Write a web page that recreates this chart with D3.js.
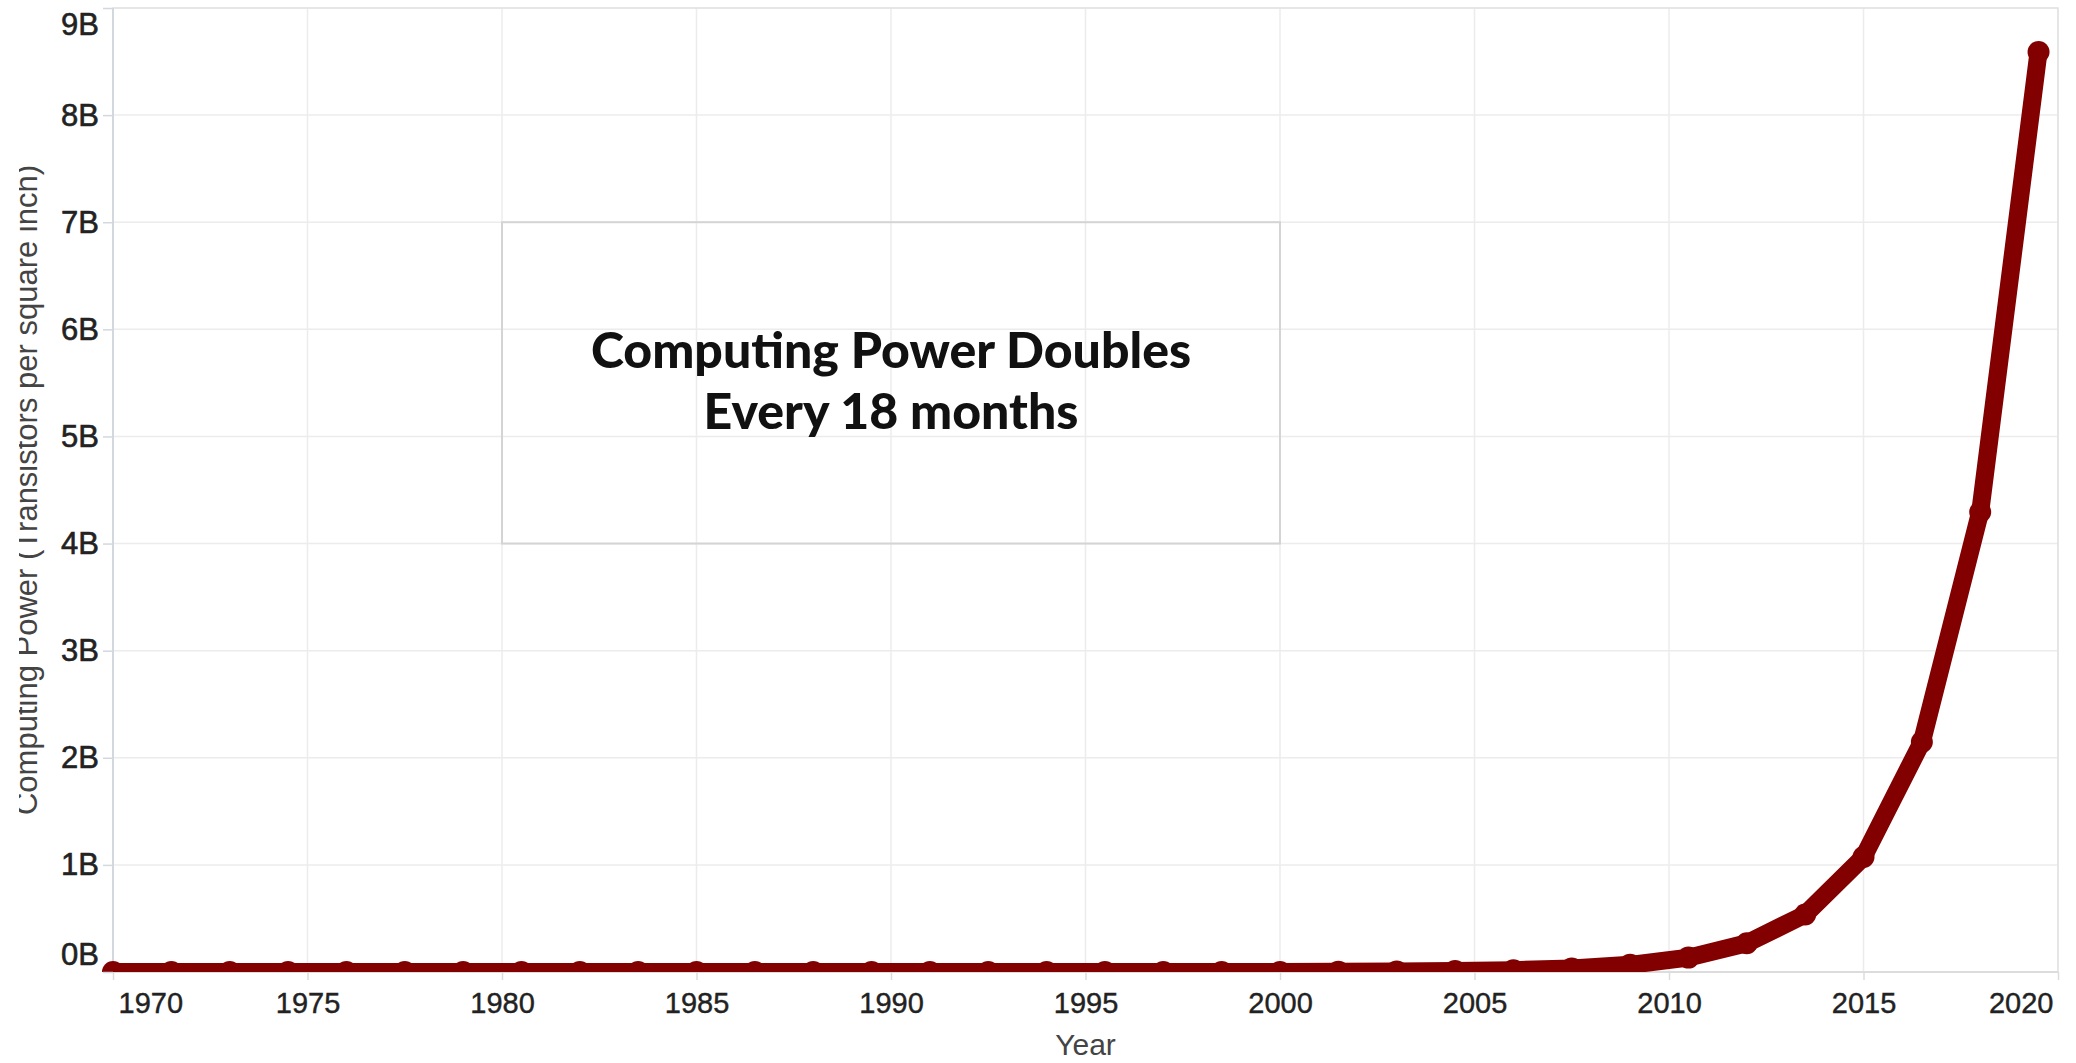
<!DOCTYPE html>
<html>
<head>
<meta charset="utf-8">
<script src="https://cdn.jsdelivr.net/npm/d3@7"></script>
<style>
  html, body { margin: 0; padding: 0; background: #ffffff; }
  svg { display: block; }
</style>
</head>
<body>
<svg id="chart" width="2076" height="1063"></svg>
<script>
// ---------------- DATA ----------------
const years = [1970, 1971.5, 1973, 1974.5, 1976, 1977.5, 1979, 1980.5, 1982, 1983.5,
               1985, 1986.5, 1988, 1989.5, 1991, 1992.5, 1994, 1995.5, 1997, 1998.5,
               2000, 2001.5, 2003, 2004.5, 2006, 2007.5, 2009, 2010.5, 2012, 2013.5,
               2015, 2016.5, 2018, 2019.5];
const computingPower = [1, 2, 4, 8, 16, 32, 64, 128, 256, 512,
                        1024, 2048, 4096, 8192, 16384, 32768, 65536, 131072, 262144, 524288,
                        1048576, 2097152, 4194304, 8388608, 16777216, 33554432, 67108864, 134217728, 268435456, 536870912,
                        1073741824, 2147483648, 4294967296, 8589934592];
const xTickValues = [1970, 1975, 1980, 1985, 1990, 1995, 2000, 2005, 2010, 2015, 2020];
const xTickLabels = ["1970", "1975", "1980", "1985", "1990", "1995", "2000", "2005", "2010", "2015", "2020"];
const yTickValues = [0, 1e9, 2e9, 3e9, 4e9, 5e9, 6e9, 7e9, 8e9, 9e9];
const yTickLabels = ["0B", "1B", "2B", "3B", "4B", "5B", "6B", "7B", "8B", "9B"];
const xDomain = [1970, 2020];
const yDomain = [0, 9e9];
const annotationYears = [1980, 2000];
const annotationValues = [4e9, 7e9];
const annotationLines = ["Computing Power Doubles", "Every 18 months"];
const xTitle = "Year";
const yTitle = "Computing Power (Transistors per square inch)";

// ---------------- LAYOUT ----------------
const W = 2076, H = 1063;
const plot = { left: 113, right: 2058, top: 8, bottom: 972 };
const lineColor = "#820000";
const axisFont = "'Liberation Sans', Arial, Helvetica, sans-serif";

const svg = d3.select("#chart");
const data = years.map((y, i) => ({ year: y, value: computingPower[i] }));

const x = d3.scaleLinear().domain(xDomain).range([plot.left, plot.right]);
const y = d3.scaleLinear().domain(yDomain).range([plot.bottom, plot.top]);

// gridlines
const grid = svg.append("g");
grid.selectAll("line.h").data(yTickValues).join("line")
  .attr("x1", plot.left).attr("x2", plot.right)
  .attr("y1", d => y(d)).attr("y2", d => y(d))
  .attr("stroke", "#ececec").attr("stroke-width", 1.5);
grid.selectAll("line.v").data(xTickValues).join("line")
  .attr("y1", plot.top).attr("y2", plot.bottom)
  .attr("x1", d => x(d)).attr("x2", d => x(d))
  .attr("stroke", "#ececec").attr("stroke-width", 1.5);

// plot border
svg.append("rect")
  .attr("x", plot.left).attr("y", plot.top)
  .attr("width", plot.right - plot.left).attr("height", plot.bottom - plot.top)
  .attr("fill", "none").attr("stroke", "#e2e2e2").attr("stroke-width", 1.5);
svg.append("line")
  .attr("x1", plot.left).attr("x2", plot.left)
  .attr("y1", plot.top).attr("y2", plot.bottom)
  .attr("stroke", "#d3d7de").attr("stroke-width", 2);
svg.append("line")
  .attr("x1", plot.left).attr("x2", plot.right)
  .attr("y1", plot.bottom).attr("y2", plot.bottom)
  .attr("stroke", "#dcdcdc").attr("stroke-width", 2);

// annotation box
const ax0 = x(annotationYears[0]), ax1 = x(annotationYears[1]);
const ay0 = y(annotationValues[1]), ay1 = y(annotationValues[0]);
svg.append("rect")
  .attr("x", ax0).attr("y", ay0)
  .attr("width", ax1 - ax0).attr("height", ay1 - ay0)
  .attr("fill", "none").attr("stroke", "#d4d4d4").attr("stroke-width", 2);

const annG = svg.append("g");
const annFont = "Lato, 'Noto Sans', sans-serif";
const probe = annG.append("text").attr("font-family", annFont).attr("font-weight", 900)
  .attr("font-size", 50).text(annotationLines[0]);
const probeLen = probe.node().getComputedTextLength();
probe.remove();
const annFs = Math.min(50, 50 * 640 / probeLen);
const cx = (ax0 + ax1) / 2;
annG.selectAll("text").data(annotationLines).join("text")
  .attr("x", cx)
  .attr("y", (d, i) => ay0 + 146 + i * 61)
  .attr("text-anchor", "middle")
  .attr("font-family", annFont).attr("font-weight", 900)
  .attr("font-size", annFs)
  .attr("fill", "#111")
  .text(d => d);

// clip for marks
svg.append("clipPath").attr("id", "plotClip").append("rect")
  .attr("x", plot.left - 20).attr("y", 0)
  .attr("width", plot.right - plot.left + 40).attr("height", plot.bottom);

const marks = svg.append("g").attr("clip-path", "url(#plotClip)");
const line = d3.line().x(d => x(d.year)).y(d => y(d.value)).curve(d3.curveLinear);
marks.append("path").datum(data)
  .attr("d", line)
  .attr("fill", "none")
  .attr("stroke", lineColor)
  .attr("stroke-width", 18)
  .attr("stroke-linejoin", "round")
  .attr("stroke-linecap", "round");
marks.selectAll("circle").data(data).join("circle")
  .attr("cx", d => x(d.year)).attr("cy", d => y(d.value))
  .attr("r", 11)
  .attr("fill", lineColor);

// y axis
const yAxis = d3.axisLeft(y).tickValues(yTickValues)
  .tickFormat((d, i) => yTickLabels[i]).tickSize(10).tickPadding(4);
const yG = svg.append("g").attr("transform", `translate(${plot.left},0)`).call(yAxis);
yG.select(".domain").remove();
yG.selectAll(".tick line").attr("stroke", "#d3d7de").attr("stroke-width", 1.5);
yG.selectAll(".tick text")
  .attr("font-family", axisFont).attr("font-size", 31).attr("fill", "#222")
  .attr("stroke", "#222").attr("stroke-width", 0.6)
  .attr("y", d => {
    const py = y(d);
    const c = Math.max(plot.top + 17, Math.min(plot.bottom - 17, py));
    return c - py;
  });

// x axis
const xAxis = d3.axisBottom(x).tickValues(xTickValues)
  .tickFormat((d, i) => xTickLabels[i]).tickSize(8).tickPadding(12);
const xG = svg.append("g").attr("transform", `translate(0,${plot.bottom})`).call(xAxis);
xG.select(".domain").remove();
xG.selectAll(".tick line").attr("stroke", "#dcdcdc").attr("stroke-width", 1.5);
xG.selectAll(".tick text")
  .attr("font-family", axisFont).attr("font-size", 29).attr("fill", "#222")
  .attr("stroke", "#222").attr("stroke-width", 0.4)
  .each(function(d) {
    const w = this.getComputedTextLength();
    const px = x(d);
    let shift = 0;
    if (px - w / 2 < plot.left + 5) shift = plot.left + 5 - (px - w / 2);
    if (px + w / 2 > plot.right - 5) shift = (plot.right - 5) - (px + w / 2);
    d3.select(this).attr("x", shift);
  });

// axis titles
svg.append("text")
  .attr("x", (plot.left + plot.right) / 2).attr("y", 1055)
  .attr("text-anchor", "middle")
  .attr("font-family", axisFont).attr("font-size", 30).attr("fill", "#444")
  .text(xTitle);

svg.append("clipPath").attr("id", "yTitleClip").append("rect")
  .attr("x", 19).attr("y", 0).attr("width", 100).attr("height", H);
svg.append("g").attr("clip-path", "url(#yTitleClip)")
  .append("text")
  .attr("transform", `translate(37,${(plot.top + plot.bottom) / 2}) rotate(-90)`)
  .attr("text-anchor", "middle")
  .attr("font-family", axisFont).attr("font-size", 31).attr("fill", "#444")
  .text(yTitle);
</script>
</body>
</html>
